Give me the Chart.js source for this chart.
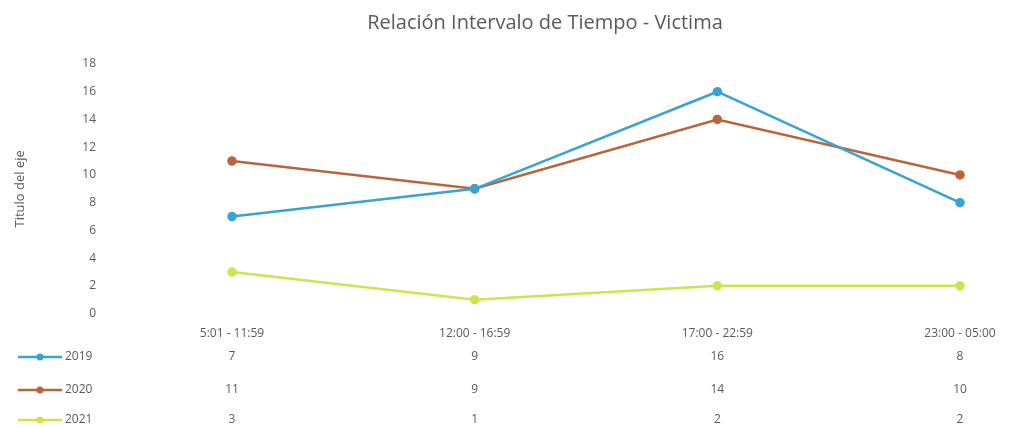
<!DOCTYPE html>
<html>
<head>
<meta charset="utf-8">
<script src="https://cdn.jsdelivr.net/npm/chart.js@4/dist/chart.umd.min.js"></script>
<style>
    html, body { margin: 0; padding: 0; background: #fff; }
    #wrap { width: 1015px; height: 428px; }
</style>
</head>
<body>
<div id="wrap"><canvas id="intervalChart"></canvas></div>
<script>
// Relación Intervalo de Tiempo - Victima

const categories = ['5:01 - 11:59', '12:00 - 16:59', '17:00 - 22:59', '23:00 - 05:00'];
const years = ['2019', '2020', '2021'];
const values2019 = [7, 9, 16, 8];
const values2020 = [11, 9, 14, 10];
const values2021 = [3, 1, 2, 2];
const yTicks = [0, 2, 4, 6, 8, 10, 12, 14, 16, 18];

const colors = ['#3aa3cf', '#b8653d', '#cfe34a'];
const textColor = '#595959';
const fontFamily = '"Open Sans", "DejaVu Sans", sans-serif';

// title + data table below the axis, Excel style
const tablePlugin = {
    id: 'dataTable',
    afterDraw(chart) {
        const ctx = chart.ctx;
        const x = chart.scales.x;
        const series = chart.data.datasets;
        const rowY = [357, 390, 420];

        ctx.save();
        ctx.fillStyle = textColor;
        ctx.font = '20px ' + fontFamily;
        ctx.textAlign = 'center';
        ctx.textBaseline = 'middle';
        ctx.fillText('Relación Intervalo de Tiempo - Victima', 545, 23);

        ctx.font = '12px ' + fontFamily;
        series.forEach((ds, r) => {
            const y = rowY[r];
            // legend key
            ctx.strokeStyle = ds.borderColor;
            ctx.lineWidth = 2.5;
            ctx.beginPath();
            ctx.moveTo(18, y);
            ctx.lineTo(62, y);
            ctx.stroke();
            ctx.fillStyle = ds.borderColor;
            ctx.beginPath();
            ctx.arc(40, y, 3.5, 0, Math.PI * 2);
            ctx.fill();

            ctx.fillStyle = textColor;
            ctx.textAlign = 'left';
            ctx.fillText(ds.label, 65, y);

            ctx.textAlign = 'center';
            ds.data.forEach((v, i) => {
                ctx.fillText(String(v), x.getPixelForValue(i), y);
            });
        });
        ctx.restore();
    }
};

function makeSeries(label, data, color) {
    return {
        label: label,
        data: data,
        borderColor: color,
        backgroundColor: color,
        borderWidth: 2.5,
        pointRadius: 3.5,
        pointHoverRadius: 3.5,
        pointBackgroundColor: color,
        pointBorderColor: color,
        tension: 0,
        fill: false
    };
}

new Chart(document.getElementById('intervalChart'), {
    type: 'line',
    data: {
        labels: categories,
        datasets: [
            makeSeries(years[0], values2019, colors[0]),
            makeSeries(years[1], values2020, colors[1]),
            makeSeries(years[2], values2021, colors[2])
        ]
    },
    options: {
        responsive: true,
        maintainAspectRatio: false,
        animation: false,
        layout: { padding: { top: 64, right: 55, left: 0, bottom: 74 } },
        plugins: {
            legend: { display: false },
            title: { display: false },
            tooltip: { enabled: false }
        },
        scales: {
            x: {
                offset: false,
                grid: { display: false, drawTicks: false },
                border: { display: false },
                ticks: {
                    color: textColor,
                    font: { size: 12, family: fontFamily },
                    padding: 13,
                    maxRotation: 0,
                    autoSkip: false
                }
            },
            y: {
                min: 0,
                max: 18,
                afterBuildTicks(scale) { scale.ticks = yTicks.map(v => ({ value: v })); },
                grid: { display: false, drawTicks: false },
                border: { display: false },
                ticks: {
                    color: textColor,
                    font: { size: 12, family: fontFamily },
                    padding: 136
                },
                title: {
                    display: true,
                    text: 'Titulo del eje',
                    color: textColor,
                    font: { size: 13, family: fontFamily },
                    padding: { top: 12, bottom: 0 }
                },
                afterFit(scale) {
                    scale.width = 232;
                    scale.paddingTop = 0;
                    scale.paddingBottom = 0;
                }
            }
        }
    },
    plugins: [tablePlugin]
});
</script>
</body>
</html>
